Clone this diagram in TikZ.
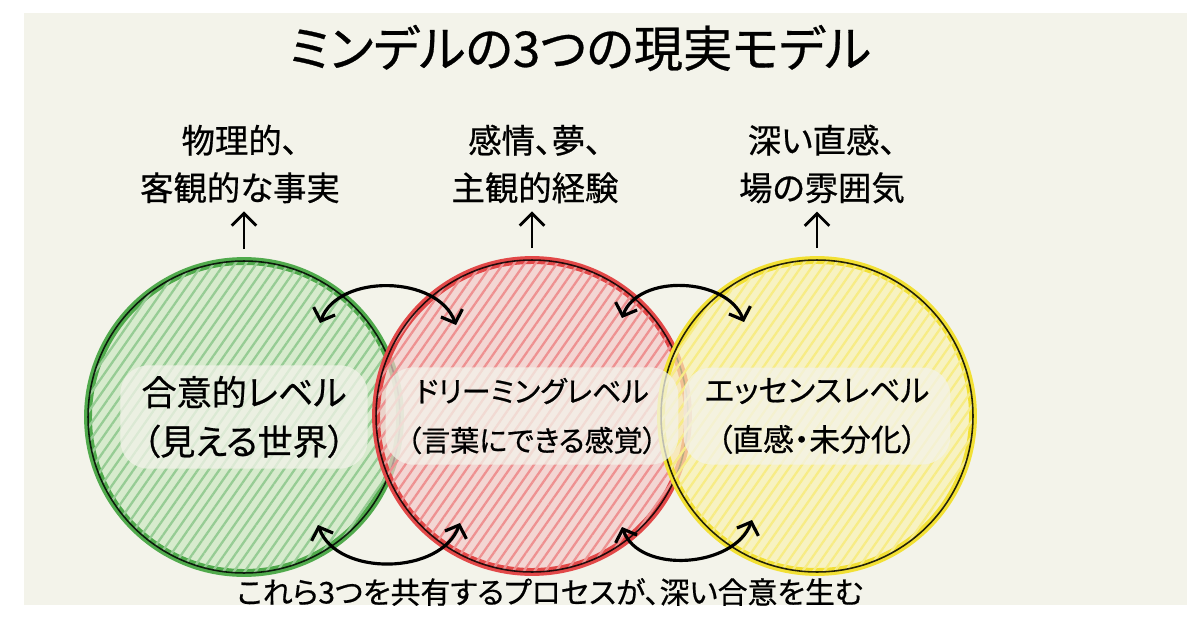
\documentclass[tikz,border=0pt]{standalone}
\usepackage{fontspec}
\setmainfont{Noto Sans CJK JP}[RawFeature=+palt,FakeBold=0.6]
\usetikzlibrary{arrows.meta,patterns.meta}

\definecolor{paper}{RGB}{243,243,234}
\definecolor{greenring}{RGB}{80,170,76}
\definecolor{greenfill}{RGB}{204,232,194}
\definecolor{redring}{RGB}{226,72,72}
\definecolor{redfill}{RGB}{244,202,202}
\definecolor{yellowring}{RGB}{242,224,52}
\definecolor{yellowfill}{RGB}{249,242,178}

\begin{document}
\begin{tikzpicture}[x=0.02cm,y=0.02cm,>={Straight Barb[length=6pt,width=13pt]},
  level/.style={circle,minimum size=6.24cm,draw=#1ring,line width=4.5pt,
    fill=#1fill,fill opacity=0.7,
    postaction={draw=none,fill opacity=0.35,pattern color=#1ring!60,
      pattern={Lines[angle=55,distance=5pt,line width=1.3pt]}},
    postaction={fill=none,draw=black,draw opacity=0.85,line width=0.9pt}},
  leveltext/.style={align=center,fill=paper,fill opacity=0.75,text opacity=1,
    rounded corners=16pt,inner xsep=12pt,inner ysep=6pt,
    font=\fontsize{#1}{28}\selectfont},
  note/.style={align=center,font=\fontsize{19}{27}\selectfont},
  uparrow/.style={-{Straight Barb[length=7pt,width=14pt]},line width=1.6pt,
    shorten <=0.16cm,shorten >=0.04cm},
  swaparrow/.style={<->,line width=1.8pt}]

  %--- paper ---
  \fill[white] (0,0) rectangle (1200,630);
  \fill[paper] (24,25) rectangle (1187,617);
  \useasboundingbox (0,0) rectangle (1200,630);

  %--- title ---
  \node[font=\fontsize{28}{32}\selectfont] (title) at (580,582) {ミンデルの3つの現実モデル};

  %--- three levels ---
  \node[level=green]  (agree)   at (244,213) {};
  \node[level=red]    (dream)   at (532,214) {};
  \node[level=yellow] (essence) at (817,214) {};

  \node[leveltext=20]   (agreeT)   at (agree)   {合意的レベル\\（見える世界）};
  \node[leveltext=16.5] (dreamT)   at (dream)   {ドリーミングレベル\\（言葉にできる感覚）};
  \node[leveltext=17.5] (essenceT) at (essence) {エッセンスレベル\\（直感・未分化）};

  %--- what each level holds ---
  \node[note] (fact)   at (240,466) {物理的、\\客観的な事実};
  \node[note] (feel)   at (535,466) {感情、夢、\\主観的経験};
  \node[note] (field)  at (822,466) {深い直感、\\場の雰囲気};

  \draw[uparrow] (agree.north)   -- (agree.north |- fact.south);
  \draw[uparrow] (dream.north)   -- (dream.north |- feel.south);
  \draw[uparrow] (essence.north) -- (essence.north |- field.south);

  %--- exchange between levels ---
  \coordinate (gt) at (320,307);
  \coordinate (rtl) at (456,305);
  \coordinate (rtr) at (622,312);
  \coordinate (yt) at (744,308);
  \coordinate (gb) at (318,105);
  \coordinate (rbl) at (460,107);
  \coordinate (rbr) at (622,103);
  \coordinate (yb) at (752,110);

  \draw[swaparrow] (gt)  to[out=70,in=110] (rtl);
  \draw[swaparrow] (rtr) to[out=70,in=110] (yt);
  \draw[swaparrow] (gb)  to[out=-70,in=-110] (rbl);
  \draw[swaparrow] (rbr) to[out=-70,in=-110] (yb);

  %--- summary ---
  \node[font=\fontsize{17}{20}\selectfont] (summary) at (550,38)
      {これら3つを共有するプロセスが、深い合意を生む};

\end{tikzpicture}
\end{document}
